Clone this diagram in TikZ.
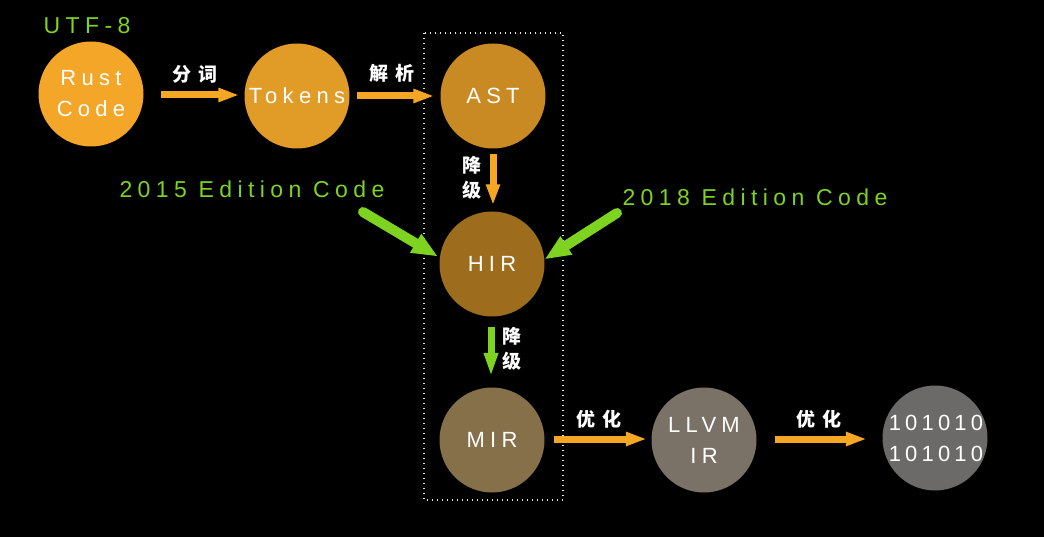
\documentclass[tikz,border=0pt]{standalone}
\usepackage{fontspec}
\setmainfont{Liberation Sans}
\newfontfamily\spfont[LetterSpace=24]{Liberation Sans}
\newfontfamily\digfont[LetterSpace=19]{Liberation Sans}
\newfontfamily\labfont[LetterSpace=23.5]{Liberation Sans}
\newfontfamily\cjkfont{Noto Sans CJK SC}
\usetikzlibrary{arrows.meta,calc}
\definecolor{corange}{HTML}{F5A623}
\definecolor{cgreen}{HTML}{7ED321}
\definecolor{cA}{HTML}{F4A628}
\definecolor{cB}{HTML}{E19C27}
\definecolor{cC}{HTML}{C98A23}
\definecolor{cD}{HTML}{9D6C1C}
\definecolor{cE}{HTML}{85704A}
\definecolor{cF}{HTML}{7A7266}
\definecolor{cG}{HTML}{6B6A68}
\tikzset{
  circ/.style={circle, minimum size=105pt, inner sep=0pt, text=white, align=center,
    font=\spfont\fontsize{22}{31}\selectfont},
  circtext/.style={inner sep=0pt, text=white, align=center,
    font=\digfont\fontsize{22}{31}\selectfont},
  lab/.style={text=cgreen, inner sep=0pt, font=\labfont\fontsize{23}{26}\selectfont},
  zh/.style={text=white, inner sep=0pt, align=center, font=\cjkfont\bfseries\fontsize{19}{25}\selectfont},
  oarr/.style={draw=corange, line width=7pt, -{Triangle[width=13pt,length=21pt]}},
  garr/.style={draw=cgreen, line width=10pt, line cap=round, -{Triangle[width=20pt,length=26pt]}},
  garrv/.style={draw=cgreen, line width=7pt, -{Triangle[width=13pt,length=24pt]}},
  dotbox/.style={draw=white!90!black, line width=2.5pt, dash pattern=on 1pt off 4pt}
}
\begin{document}
\begin{tikzpicture}[x=1pt,y=-1pt]
\fill[black] (0,0) rectangle (1044,537);
\useasboundingbox (0,0) rectangle (1044,537);
\draw[dotbox] (424,33) rectangle (563,500);

\node[circ, fill=cA] (rust) at (91,94) {Rust\\Code};
\node[circ, fill=cB] (tok) at (297,96) {Tokens};
\node[circ, fill=cC] (ast) at (493,96) {AST};
\node[circ, fill=cD] (hir) at (492,264) {HIR};
\node[circ, fill=cE] (mir) at (492,440) {MIR};
\node[circ, fill=cF] (llvm) at (704,440) {LLVM\\IR};
\node[circ, fill=cG] (bin) at (935,438) {};
\node[circtext] (bintext) at ([xshift=1pt]bin.center) {101010\\101010};

\node[lab] (utf) at (87,25.5) {UTF-8};
\node[lab] (e15) at (252,189) {2015 Edition Code};
\node[lab] (e18) at (755,197) {2018 Edition Code};

\node[zh] (fc) at (195,74) {分\hspace{7pt}词};
\node[zh] (jx) at (392,73) {解\hspace{7pt}析};
\node[zh] (jj1) at (472,178) {降\\级};
\node[zh] (jj2) at (511.5,348.5) {降\\级};
\node[zh] (yh1) at (599,419) {优\hspace{7pt}化};
\node[zh] (yh2) at (819,419) {优\hspace{7pt}化};

\draw[oarr] ($(rust.east)+(17,1)$) -- ($(tok.west)+(-5,-1)$);
\draw[oarr] ($(tok.east)+(7,0)$) -- ($(ast.west)+(-6,0)$);
\draw[oarr] ($(ast.south)+(0,5.5)$) -- ($(hir.north)+(1,-6)$);
\draw[oarr] ($(mir.east)+(9.5,-1)$) -- ($(llvm.west)+(-4.5,-1)$);
\draw[oarr] ($(llvm.east)+(18.5,-1)$) -- ($(bin.west)+(-15.5,1)$);

\coordinate (g1s) at (363,212);
\coordinate (g2s) at (617,213);
\draw[garr, shorten >=2pt] (g1s) -- (hir.173);
\draw[garr] (g2s) -- (hir.5);
\draw[garrv] ($(hir.south)+(-1,10.5)$) -- ($(mir.north)+(-1,-10.5)$);
\end{tikzpicture}
\end{document}
